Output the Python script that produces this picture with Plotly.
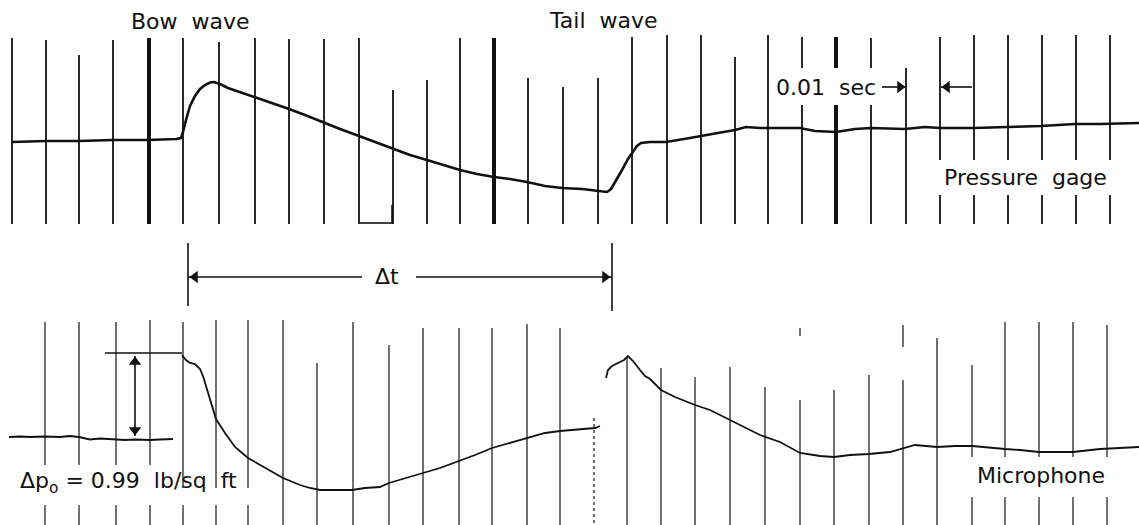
import plotly.graph_objects as go

# ---------------- data read from the record ----------------
# Pressure gage trace (upper record), record units (x right, y down)
gage_x = [12, 46, 79, 113, 148, 176, 181, 183, 186, 190, 195, 200, 205, 210, 214, 220,
          228, 240, 254, 270, 289, 305, 324, 340, 359, 380, 393, 410, 427, 444, 460, 477,
          494, 510, 527, 545, 562, 582, 597, 603, 607, 611, 616, 622, 628, 633, 637, 641,
          650, 666, 680, 690, 701, 720, 735, 746, 760, 780, 800, 815, 836, 855, 871, 905,
          925, 940, 974, 1007, 1041, 1075, 1100, 1139]
gage_y = [142, 141, 141, 140, 140, 139, 138, 132, 120, 106, 96, 89, 85, 82.5, 82, 84,
          88, 92, 97, 102, 109, 115, 123, 129, 136, 144, 149, 155, 160, 165, 170, 174,
          177, 179, 182, 186, 188, 189, 191, 192, 192, 189, 181, 170, 159, 151, 146, 143,
          142, 142, 140, 138, 136, 133, 130, 127, 128, 128, 128, 131, 132, 129, 128, 129,
          127, 128, 128, 127, 126, 124, 124, 123]

# Microphone trace (lower record) in three pieces
mic_a_x = [9, 20, 30, 45, 60, 70, 79, 90, 100, 116, 125, 135, 150, 160, 173]
mic_a_y = [437, 436.5, 437, 436.5, 437, 436, 437, 439.5, 438.5, 439, 440, 439.5, 440, 439.5, 439]
mic_b_x = [182, 186, 190, 195, 200, 203, 206, 210, 216, 225, 235, 248, 265, 283, 300, 310,
           320, 330, 340, 352, 365, 380, 389, 405, 423, 440, 459, 475, 492, 510, 527, 545,
           560, 580, 595, 600]
mic_b_y = [355, 360, 363, 364, 369, 376, 386, 400, 419, 433, 447, 458, 468, 478, 485, 488,
           490, 490, 489.5, 490, 488, 487, 483, 478, 473, 468, 461, 455, 448, 443, 438, 433,
           431, 429, 428, 426]
mic_c_x = [606, 608, 612, 618, 624, 628, 633, 640, 645, 650, 655, 661, 675, 695, 710, 720,
           730, 745, 760, 780, 800, 820, 834, 850, 869, 890, 903, 915, 937, 955, 972, 990,
           1005, 1020, 1039, 1073, 1100, 1139]
mic_c_y = [378, 370, 366, 363, 360, 356, 361, 370, 376, 379, 384, 390, 397, 405, 410, 415,
           420, 428, 435, 442, 453, 456, 457, 455, 454, 452, 448, 445, 447, 446, 446, 448,
           449, 450, 452, 452, 449, 447]

# Timing marks (0.01 sec apart)
top_marks = [12, 46, 79, 113, 149, 183, 219, 255, 289, 324, 359, 393, 427, 460, 494,
             528, 563, 598, 632, 667, 701, 735, 768, 802, 836, 871, 906, 940, 974, 1008,
             1042, 1076, 1110]
bot_marks = [45, 79, 116, 150, 183, 216, 248, 283, 317, 353, 389, 423, 459, 492, 527,
             560, 594, 627, 661, 695, 730, 765, 800, 834, 869, 903, 937, 972, 1005, 1039,
             1073, 1107]

# Labels
label_bow = "Bow\u00a0\u00a0wave"
label_tail = "Tail\u00a0\u00a0wave"
label_sec = "0.01\u00a0\u00a0sec"
label_gage = "Pressure\u00a0\u00a0gage"
label_mic = "Microphone"
label_dt = "\u0394t"
label_dp = "\u0394p<sub>o</sub>\u00a0= 0.99\u00a0\u00a0lb/sq\u00a0\u00a0ft"

# ---------------- drawing helpers ----------------
TOP_END = 224
top_start = [38, 40, 55, 40, 38, 38, 42, 38, 39, 39, 38, 90, 80, 38, 38, 78, 87, 78,
             37, 35, 35, 57, 35, 37, 37, 38, 68, 37, 35, 35, 35, 35, 35]
heavy = {149, 494, 836}


def top_spans(i, x):
    s = top_start[i]
    if x in (802, 836, 871):
        return [(s, 68), (105, TOP_END)]
    if x >= 940:
        return [(s, 160), (195, TOP_END)]
    return [(s, TOP_END)]


bot_start = [322, 322, 322, 320, 322, 320, 320, 320, 363, 322, 345, 328, 328, 328, 324,
             328, 418, 357, 368, 377, 367, 387, 328, 390, 375, 325, 338, 365, 322, 322,
             322, 325]


def bot_spans(i, x):
    s = bot_start[i]
    if x <= 150:
        return [(s, 465), (505, 525)]
    if x <= 250:
        return [(s, 488), (505, 525)]
    if x >= 972:
        return [(s, 457), (497, 525)]
    if x == 903:
        return [(s, 347), (380, 525)]
    if x == 800:
        return [(s, 336), (400, 525)]
    return [(s, 525)]


def seg_xy(marks, span_fn, keep):
    xs, ys = [], []
    for i, x in enumerate(marks):
        if not keep(x):
            continue
        for a, b in span_fn(i, x):
            xs += [x, x, None]
            ys += [a, b, None]
    return xs, ys


fig = go.Figure()
BLK = "#111111"


def lines(xs, ys, width, dash="solid"):
    fig.add_trace(go.Scatter(x=xs, y=ys, mode="lines",
                             line=dict(color=BLK, width=width, dash=dash),
                             hoverinfo="skip", showlegend=False))


# upper timing lines
tx, ty = seg_xy(top_marks, top_spans, lambda x: x not in heavy)
lines(tx, ty, 1.8)
hx, hy = seg_xy(top_marks, top_spans, lambda x: x in heavy)
lines(hx, hy, 4)

# lower timing lines
bx, by = seg_xy(bot_marks, bot_spans, lambda x: x != 594)
lines(bx, by, 1.2)
dx, dy = seg_xy(bot_marks, bot_spans, lambda x: x == 594)
lines(dx, dy, 1.2, "dot")

# recorded traces
lines(gage_x, gage_y, 2.6)
for mx, my in ((mic_a_x, mic_a_y), (mic_b_x, mic_b_y), (mic_c_x, mic_c_y)):
    lines(mx, my, 1.8)

# auxiliary construction lines (delta t ticks, delta p bracket, small corner,
# arrow shafts)
aux_x = [188, 188, None, 612, 612, None, 105, 182, None, 360, 392, None, 392, 392, None,
         188, 362, None, 416, 612, None, 882, 905, None, 941, 972, None, 135, 135]
aux_y = [243, 306, None, 243, 311, None, 353, 353, None, 223, 223, None, 205, 223, None,
         277, 277, None, 277, 277, None, 87, 87, None, 87, 87, None, 356, 436]
lines(aux_x, aux_y, 1.6)

# arrow heads
heads = [(195, 277, "triangle-left"), (605, 277, "triangle-right"),
         (900, 87, "triangle-right"), (947, 87, "triangle-left"),
         (135, 362, "triangle-up"), (135, 430, "triangle-down")]
for hx_, hy_, sym in heads:
    fig.add_trace(go.Scatter(x=[hx_], y=[hy_], mode="markers",
                             marker=dict(symbol=sym, size=11, color=BLK, line=dict(width=0)),
                             hoverinfo="skip", showlegend=False))

FONT = dict(family="DejaVu Sans", size=22, color=BLK)


def label(text, x, y, xanchor="center"):
    fig.add_annotation(x=x, y=y, text=text, showarrow=False, xref="x", yref="y",
                       xanchor=xanchor, yanchor="middle", font=FONT)


label(label_bow, 190, 21)
label(label_tail, 603, 20)
label(label_sec, 826, 87)
label(label_gage, 1025, 177)
label(label_dt, 387, 276)
label(label_dp, 18, 482, xanchor="left")
label(label_mic, 1041, 475)

fig.update_layout(
    width=1139, height=525,
    margin=dict(l=0, r=0, t=0, b=0),
    paper_bgcolor="white", plot_bgcolor="white",
    xaxis=dict(range=[0, 1139], visible=False, fixedrange=True),
    yaxis=dict(range=[525, 0], visible=False, fixedrange=True),
    showlegend=False,
)

fig.write_html("out.html")
